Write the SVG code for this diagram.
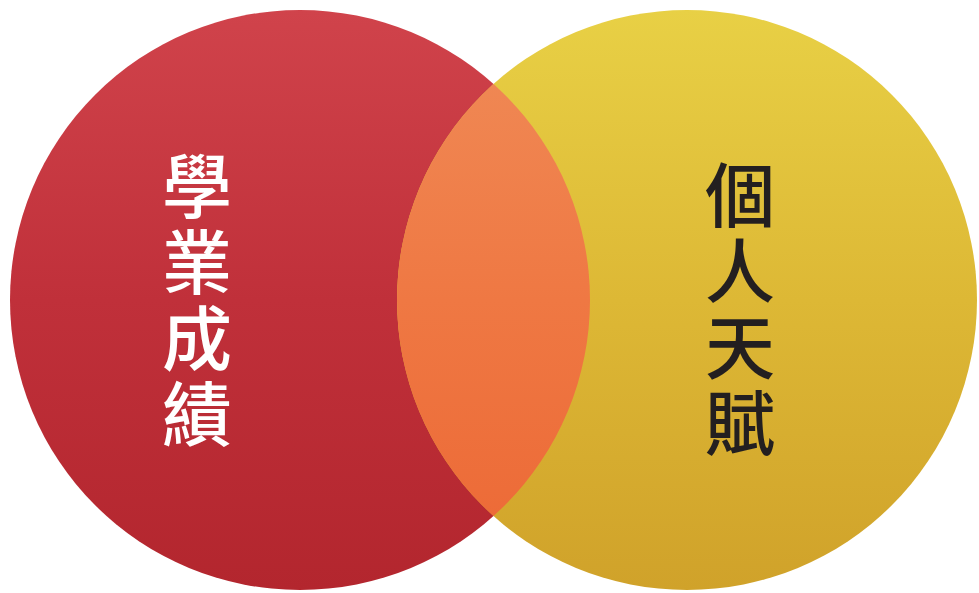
<svg xmlns="http://www.w3.org/2000/svg" width="979" height="593" viewBox="0 0 979 593">
<defs>
<linearGradient id="gRed" x1="0" y1="0" x2="0" y2="1">
<stop offset="0" stop-color="#d0434b"/>
<stop offset="0.5" stop-color="#c0303a"/>
<stop offset="1" stop-color="#b3262e"/>
</linearGradient>
<linearGradient id="gYel" x1="0" y1="0" x2="0" y2="1">
<stop offset="0" stop-color="#e8d045"/>
<stop offset="0.5" stop-color="#ddb835"/>
<stop offset="1" stop-color="#d0a22a"/>
</linearGradient>
<linearGradient id="gOr" x1="0" y1="0" x2="0" y2="1">
<stop offset="0" stop-color="#f08c58"/>
<stop offset="0.5" stop-color="#ef7843"/>
<stop offset="1" stop-color="#ec6734"/>
</linearGradient>
<clipPath id="clipRed"><circle cx="300" cy="300" r="290"/></clipPath>
</defs>
<style>
.lbl{font-family:"Noto Sans CJK TC","Noto Sans CJK SC",sans-serif;font-size:70px;font-weight:500;writing-mode:vertical-rl;letter-spacing:6px}
.w{fill:#ffffff}
.k{fill:#231f20}
</style>
<rect width="979" height="593" fill="#ffffff"/>
<g id="node-academic">
<circle cx="300" cy="300" r="290" fill="url(#gRed)"/>
</g>
<g id="node-talent">
<circle cx="687" cy="300" r="290" fill="url(#gYel)"/>
</g>
<g id="node-overlap">
<circle cx="687" cy="300" r="290" fill="url(#gOr)" clip-path="url(#clipRed)"/>
</g>
<g id="label-academic">
<text class="lbl w" x="197" y="151">學業成績</text>
</g>
<g id="label-talent">
<text class="lbl k" x="740" y="160">個人天賦</text>
</g>
<g id="connectors"/>
</svg>
